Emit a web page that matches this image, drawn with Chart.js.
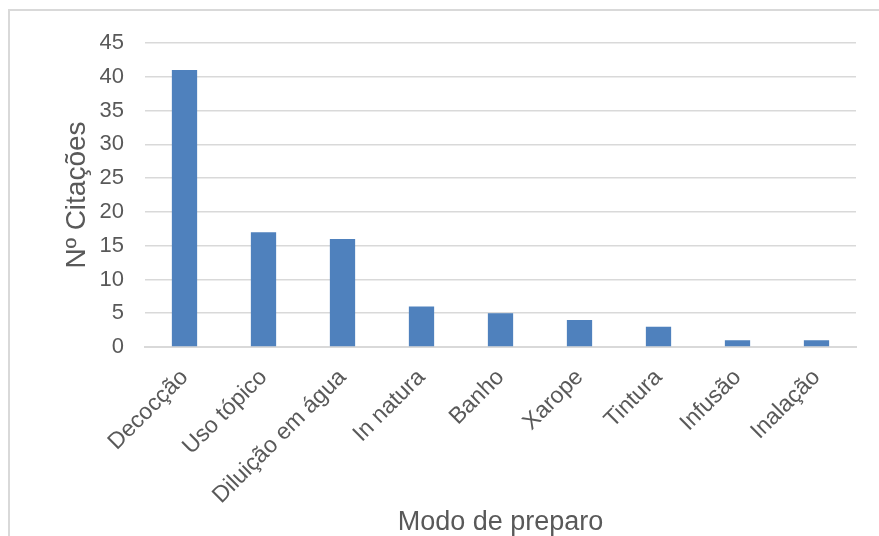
<!DOCTYPE html>
<html>
<head>
<meta charset="utf-8">
<script src="https://cdn.jsdelivr.net/npm/chart.js@4/dist/chart.umd.min.js"></script>
<style>
  body { margin:0; background:#fff; }
  #wrap { position:relative; width:879px; height:536px; overflow:hidden; }
  #frame { position:absolute; left:8px; top:9px; width:900px; height:600px; border:2px solid #d9d9d9; box-sizing:border-box; }
  canvas { position:absolute; left:0; top:0; }
</style>
</head>
<body>
<div id="wrap">
  <div id="frame"></div>
  <canvas id="chart" width="879" height="536"></canvas>
</div>
<script>
const categories = ['Decocção','Uso tópico','Diluição em água','In natura','Banho','Xarope','Tintura','Infusão','Inalação'];
const citations = [41, 17, 16, 6, 5, 4, 3, 1, 1];
const BAR_COLOR = '#4f81bd';
const TEXT = '#595959';
const FONT = "'Liberation Sans', Arial, sans-serif";

const chart = new Chart(document.getElementById('chart'), {
  type: 'bar',
  data: { labels: categories, datasets: [{ label: 'Nº Citações', data: citations, backgroundColor: BAR_COLOR, barPercentage: 0.32, categoryPercentage: 1 }] },
  options: {
    responsive: false,
    animation: false,
    layout: { padding: { left: 60, top: 43, right: 23, bottom: 0 } },
    plugins: { legend: { display: false }, tooltip: { enabled: false } },
    scales: {
      x: {
        grid: { display: false },
        border: { color: '#d9d9d9', width: 2 },
        ticks: { color: TEXT, font: { family: FONT, size: 23 }, minRotation: 45, maxRotation: 45, autoSkip: false, padding: 9 },
        title: { display: true, text: 'Modo de preparo', color: TEXT, font: { family: FONT, size: 27, lineHeight: 1 }, padding: { top: 0, bottom: 0 } },
        afterFit: s => { s.height = 189; }
      },
      y: {
        min: 0, max: 45,
        ticks: { stepSize: 5, color: TEXT, font: { family: FONT, size: 22 }, padding: 21 },
        grid: { color: '#d9d9d9', lineWidth: 1.5, drawTicks: false },
        border: { display: false },
        title: { display: true, text: 'Nº Citações', color: TEXT, font: { family: FONT, size: 28 }, padding: 0 },
        afterFit: s => { s.width = 85; }
      }
    }
  }
});
</script>
</body>
</html>
